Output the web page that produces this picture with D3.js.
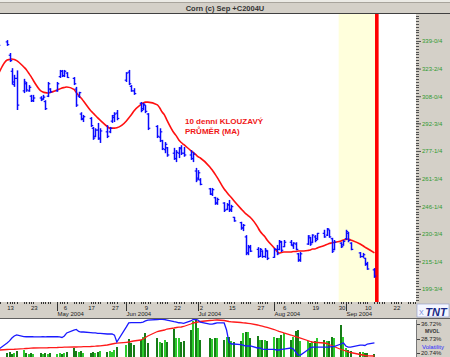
<!DOCTYPE html>
<html><head><meta charset="utf-8">
<script src="https://cdn.jsdelivr.net/npm/d3@7"></script>
<style>html,body{margin:0;padding:0;background:#d4d0c8;overflow:hidden}svg{display:block}</style>
</head><body><svg id="c" width="450" height="357"></svg>
<script>
// ---------- data ----------
const title = "Corn (c) Sep +C2004U";
const dates = [
"04-08","04-12","04-13","04-14","04-15","04-16",
"04-19","04-20","04-21","04-22","04-23",
"04-26","04-27","04-28","04-29","04-30",
"05-03","05-04","05-05","05-06","05-07",
"05-10","05-11","05-12","05-13","05-14",
"05-17","05-18","05-19","05-20","05-21",
"05-24","05-25","05-26","05-27","05-28",
"06-01","06-02","06-03","06-04",
"06-07","06-08","06-09","06-10",
"06-14","06-15","06-16","06-17","06-18",
"06-21","06-22","06-23","06-24","06-25",
"06-28","06-29","06-30","07-01","07-02",
"07-06","07-07","07-08","07-09",
"07-12","07-13","07-14","07-15","07-16",
"07-19","07-20","07-21","07-22","07-23",
"07-26","07-27","07-28","07-29","07-30",
"08-02","08-03","08-04","08-05","08-06",
"08-09","08-10","08-11","08-12","08-13",
"08-16","08-17","08-18","08-19","08-20",
"08-23","08-24","08-25","08-26","08-27",
"08-30","08-31","09-01","09-02","09-03",
"09-07","09-08","09-09","09-10",
"09-13"];
const high = [341,339.5,332.25,323.75,320,322.5,
317.75,316,314.25,308.75,308.75,
308,308.75,305.75,316,312.5,
316,322.75,322.75,322.75,321.5,
318.75,313.25,310.5,299,297.5,
296.25,290.75,290,293,290,
291.75,290.75,297.5,299,300.25,
321.5,322.75,314.25,312.5,
304.75,304.25,303,298.5,
291.75,290,283.5,282.25,279.5,
279,277.75,279.5,280.5,279.5,
277.75,276.75,267.75,266.5,262,
256.5,256.5,251.5,251,
248.5,248,249.75,247,240.25,
237.5,236.25,230,224.5,224.5,
223.25,222.75,221.5,222.75,221.5,
222.75,224.5,227.25,226.75,227.25,
227.25,226,226,220,220.5,
230,229,230.5,230,231.25,
233,234,233,228.5,227.25,
226,227.25,233,231.75,226,
220.5,220,217.25,215,
211.5];
const low = [335.5,336.25,327.25,314.5,313.25,300.25,
309.75,310.5,310.5,304.75,304.75,
305.25,306,300.25,307.5,309.75,
310.5,318.25,318.75,318.75,318.25,
314.25,302,307,294.5,293.5,
290.75,283.5,285,283.5,281.75,
284.5,287.25,293,293.5,294.5,
316,314.25,310.5,308.75,
299,300.25,298.5,289,
284.5,282.25,277.75,276,274,
272.25,271,273.25,275,274,
272.25,271,259.75,261,258,
252.5,252,247,247,
243,244,243,243,237.5,
233,232.25,218.75,218.75,220.5,
217.25,217.75,217.25,217.25,216,
217.25,218.75,221.5,220.5,223.25,
224,222.25,221.5,215,215,
224.5,224,225.5,226,227.25,
228.5,229.5,228.5,220,221.5,
222.75,224,227.25,226,221.5,
217.25,217.25,212.75,210.5,
206];
const open = [340,338.5,331,322,314.5,318,
311,315,311,308,305.5,
307,306.5,305,308,312,
311,319,322,319.5,321,
318,312,308,298,295,
295.5,290,285.5,289,284,
288,288,294,296,298.5,
317,321.5,313.5,311,
304,301,303,298,
291,285,283,278,279,
276,273,276,279,276,
275,273,266,262,261,
256,253,251,248,
248,244.5,247,244,240,
237,234,229,220,223,
222,218,221,218,221,
217.5,222,222,226,223.5,
226,224,225,219.5,216,
225,228.5,226,229,228,
231,230,233,228,222,
225.5,224.5,228,231,225.5,
220,218,217,214,
210.5];
const close = [336.5,337,328,316,318,303,
316,311.5,313,305.5,307,
306,307.5,301,315,310.5,
315,322,319.5,322,318.5,
315,303,310,295.5,296.5,
291.5,284.5,289,284.5,288.5,
285.5,290,297,298,295.5,
321,315,311,309.5,
300,303.5,299.5,290,
285.5,288,278.5,281,275,
273,276.5,278.5,276,275,
273,275.5,261,265,258.5,
253,255.5,248,250,
244,247,244.5,246,238,
234,235.5,220,223.5,221,
218,222,218,221.5,217,
222,219.5,226.5,221.5,226,
224.5,225.5,222,216,219.5,
229.5,225,230,227,231,
229,233.5,229,221,226,
223.5,226.5,232,227,222,
218,219,213.5,211,
207];
const movingAvg10 = [319.3,328.3,328.6,328.9,328.6,328.0,
324.4,323.0,321.0,319.1,316.8,
311.2,310.4,310.0,309.8,310.1,
311.5,312.0,312.6,312.9,313.2,
311.8,310.1,308.4,307.0,305.3,
300.0,298.6,297.2,295.8,294.6,
291.0,290.1,290.1,290.1,290.3,
294.1,295.8,297.4,299.4,
303.3,304.2,304.7,304.7,
303.1,301.4,299.1,297.4,294.6,
287.3,285.6,283.4,282.0,280.9,
277.5,276.4,275.3,274.1,273.3,
268.3,266.6,264.6,262.6,
255.9,254.2,252.5,251.1,249.4,
244.9,243.5,242.1,241.0,239.9,
234.6,232.3,230.6,229.2,227.3,
222.8,221.1,220.0,220.2,220.5,
220.5,220.8,220.8,221.1,221.1,
221.4,221.6,222.2,222.2,222.8,
224.2,224.7,225.3,225.6,225.9,
226.7,227.3,227.5,227.8,227.3,
225.0,224.2,223.3,222.5,
220.0];
const volume = [10,8,10,6,8,12,
14,8,6,8,6,
8,6,8,6,8,
6,8,6,8,10,
18,12,10,12,8,
8,10,8,10,12,
10,12,10,14,20,
24,36,28,24,
34,40,48,28,
38,30,28,34,30,
56,38,38,30,32,
54,72,74,58,34,
38,36,38,38,
34,40,40,32,30,
32,48,50,50,38,
42,34,34,34,32,
40,38,38,44,48,
34,40,52,54,32,
32,28,30,32,38,
34,32,32,40,38,
64,40,18,14,12,
10,10,8,8,
6];
const volatility = [22.4,26.3,27.4,29.0,30.1,30.7,
29.8,29.7,29.7,29.8,29.7,
29.6,29.7,29.6,29.7,29.8,
29.7,29.6,29.3,30.1,31.8,
33.4,33.7,32.6,32.3,32.3,
32.0,31.8,31.8,31.5,31.5,
31.2,31.2,31.2,30.6,26.8,
35.1,37.3,37.5,37.5,
37.5,37.8,38.4,38.9,
39.2,39.3,39.3,39.2,38.9,
38.0,37.8,37.4,37.3,37.1,
38.4,39.2,39.3,38.9,37.8,
36.7,36.7,37.0,37.3,
37.3,33.4,26.8,25.7,25.7,
25.4,25.1,24.6,24.6,24.6,
23.5,23.5,22.9,22.7,22.7,
22.7,22.4,22.4,22.7,22.9,
23.5,22.9,21.3,19.6,19.6,
22.4,23.5,24.0,24.0,24.0,
24.0,24.0,24.0,24.3,24.3,
25.7,26.3,24.6,24.0,24.0,
25.1,25.1,24.9,25.7,
26.3];
const openInterest = [137,140.5,141,141.6,142,143,
145,146,146.5,147.5,148.6,
149,149.7,149.7,150,150.8,
151.3,151.9,152.4,153,153.5,
154,154,154.6,155.1,155.7,
156.8,157.8,158.4,159.5,160.5,
164.9,167.6,170.3,173,174.6,
179.5,181,183.8,186.5,
191.9,197.3,205.4,213.5,
237.8,240.5,243.2,245.9,251.3,
256.7,259.4,261,262.2,264.9,
278.4,283.8,286.5,289.2,291.9,
297.3,298.4,299.4,300,
297.3,294.6,291.9,290.3,289.2,
286.5,284.9,283.8,282.2,280.5,
273,269.7,266.5,263.2,260,
248.6,243.2,238.9,235.1,230.8,
218.9,214.6,210.3,205.9,201.6,
189.2,184.9,181.1,179.5,178.4,
175.7,173,167.6,162.2,156.8,
140.5,136.8,132.4,128.1,124.3,
113.5,110.8,108.1,106.5,
105.4];
const priceTicks = [339,323.5,308,292.75,277.25,261.75,246.25,230.75,215.25,199.75];
const priceTickLabels = ["339-0/4","323-2/4","308-0/4","292-3/4","277-1/4","261-3/4","246-1/4","230-3/4","215-1/4","199-3/4"];
const dayTickDates = ["04-13","04-23","05-06","05-17","05-27","06-09","06-22","07-02","07-15","07-27","08-06","08-19","08-30","09-10","09-22"];
const dayTickLabels = ["13","23","6","17","27","9","22","2","15","27","6","19","30","10","22"];
const monthDates = ["05-03","06-01","07-01","08-02","09-01"];
const monthLabels = ["May 2004","Jun 2004","Jul 2004","Aug 2004","Sep 2004"];
const highlightStart = "08-29", highlightEnd = "09-14";
const annotation = ["10 denní KLOUZAVÝ","PRŮMĚR (MA)"];
const volaLabels = ["36.72%","28.73%","20.74%"];
const volaTicks = [36.72,28.73,20.74];

// ---------- drawing ----------
const parse = d3.utcParse("%Y-%m-%d");
const D = s => parse("2004-" + s);
const rows = dates.map((s,i)=>({d:D(s),h:high[i],l:low[i],o:open[i],c:close[i],ma:movingAvg10[i],v:volume[i],vo:volatility[i],oi:openInterest[i]}));
const FONT = "'Liberation Sans', Arial, sans-serif";
const svg = d3.select("#c");
const P = {l:0, r:416, t:14, b:302};
const B = {t:319, b:357};
const x = d3.scaleUtc().domain([D("04-13"), D("09-22")]).range([9.5, 395.9]);
const y = d3.scaleLinear().domain([199.75, 339]).range([289, 41]);
const yVol = d3.scaleLinear().domain([0, 80]).range([B.b, B.b-40]);
const yVola = d3.scaleLinear().domain([20.74, 36.72]).range([353, 324]);
const yOI = d3.scaleLinear().domain([100, 300]).range([B.b, 320]);

svg.append("rect").attr("width",450).attr("height",357).attr("fill","#d4d0c8");
// title bar
svg.append("rect").attr("x",0).attr("y",0).attr("width",450).attr("height",2).attr("fill","#ecebe6");
svg.append("line").attr("x1",0).attr("x2",450).attr("y1",2.5).attr("y2",2.5).attr("stroke","#a8a49c");
svg.append("line").attr("x1",0).attr("x2",450).attr("y1",13.5).attr("y2",13.5).attr("stroke","#404040");
svg.append("text").attr("x",225).attr("y",10.5).attr("text-anchor","middle")
  .attr("font-family",FONT).attr("font-weight","bold").attr("font-size",7.5).attr("fill","#333").text(title);

const defs = svg.append("defs");
defs.append("clipPath").attr("id","cp").append("rect").attr("x",P.l).attr("y",P.t).attr("width",P.r-P.l).attr("height",P.b-P.t);
defs.append("clipPath").attr("id","cb").append("rect").attr("x",0).attr("y",B.t).attr("width",416).attr("height",B.b-B.t);

// main plot
svg.append("rect").attr("x",P.l).attr("y",P.t).attr("width",P.r-P.l).attr("height",P.b-P.t).attr("fill","#fff");
const g = svg.append("g").attr("clip-path","url(#cp)");
g.append("rect").attr("x",x(D(highlightStart))).attr("y",P.t)
  .attr("width",x(D(highlightEnd))-x(D(highlightStart))).attr("height",P.b-P.t).attr("fill","#ffffdc");
g.append("rect").attr("x",x(D(highlightEnd))-1.8).attr("y",P.t).attr("width",3.6).attr("height",P.b-P.t).attr("fill","#ff0000");

g.append("path").datum(rows).attr("fill","none").attr("stroke","#ff1010").attr("stroke-width",1.6)
  .attr("d",d3.line().x(d=>x(d.d)).y(d=>y(d.ma)).curve(d3.curveMonotoneX));

const bars = g.append("g").attr("stroke","#0a0aff");
rows.forEach(d=>{
  const xx = Math.round(x(d.d))+0.5;
  bars.append("line").attr("x1",xx).attr("x2",xx).attr("y1",y(d.h)).attr("y2",y(d.l)).attr("stroke-width",1.5);
  bars.append("line").attr("x1",xx-1.8).attr("x2",xx).attr("y1",y(d.o)).attr("y2",y(d.o)).attr("stroke-width",1.2);
  bars.append("line").attr("x1",xx).attr("x2",xx+1.8).attr("y1",y(d.c)).attr("y2",y(d.c)).attr("stroke-width",1.2);
});

svg.append("g").attr("font-family",FONT).attr("font-weight","bold").attr("font-size",8).attr("fill","#f01818")
  .selectAll("text").data(annotation).join("text").attr("x",185).attr("y",(d,i)=>123.5+i*10).text(d=>d);

// right price axis
const ax = svg.append("g");
d3.range(192.0, 354, 1.55).forEach(v=>{
  const yy = Math.round(y(v))+0.5;
  if (yy>P.t+1 && yy<P.b-1) ax.append("line").attr("x1",416).attr("x2",419).attr("y1",yy).attr("y2",yy).attr("stroke","#505050");
});
ax.append("g").attr("transform","translate(416,0)")
  .call(d3.axisRight(y).tickValues(priceTicks).tickFormat((d,i)=>priceTickLabels[i]).tickSize(5).tickPadding(1))
  .call(s=>{s.select(".domain").remove();
    s.selectAll(".tick line").attr("stroke","#555");
    s.selectAll("text").attr("font-family",FONT).attr("font-size",6).attr("fill","#2f9a2f");});

// date axis bar
const da = svg.append("g").attr("shape-rendering","crispEdges");
d3.utcDay.range(D("04-05"), D("10-01")).filter(d=>d.getUTCDay()>0 && d.getUTCDay()<6).forEach(d=>{
  const xx = Math.round(x(d))+0.5;
  if (xx>0 && xx<416) da.append("line").attr("x1",xx).attr("x2",xx).attr("y1",302).attr("y2",304).attr("stroke","#333");
});
monthDates.forEach((s,i)=>{
  const xx = Math.round(x(D(s)))+0.5;
  da.append("line").attr("x1",xx).attr("x2",xx).attr("y1",302).attr("y2",311).attr("stroke","#333");
  svg.append("text").attr("x",xx).attr("y",315.5).attr("font-family",FONT).attr("font-size",6).attr("fill","#222").text(monthLabels[i]);
});
dayTickDates.forEach((s,i)=>{
  svg.append("text").attr("x",x(D(s))+1).attr("y",309.5).attr("text-anchor","middle")
    .attr("font-family",FONT).attr("font-size",6).attr("fill","#222").text(dayTickLabels[i]);
});
svg.append("line").attr("x1",0).attr("x2",450).attr("y1",318.5).attr("y2",318.5).attr("stroke","#606060");

// TNT logo
svg.append("rect").attr("x",417).attr("y",304).attr("width",32).attr("height",13).attr("fill","#f4f6ff").attr("stroke","#8a96c8").attr("stroke-width",0.6);
svg.append("text").attr("x",419).attr("y",314.5).attr("font-family",FONT).attr("font-size",7).attr("fill","#6f86d8").text("X");
svg.append("text").attr("x",436).attr("y",315.5).attr("text-anchor","middle").attr("font-family",FONT)
  .attr("font-weight","bold").attr("font-style","italic").attr("font-size",11).attr("fill","#1b2a86").text("TNT");

// bottom panel
svg.append("rect").attr("x",0).attr("y",B.t).attr("width",416).attr("height",B.b-B.t).attr("fill","#fff");
const gb = svg.append("g").attr("clip-path","url(#cb)");
gb.append("g").attr("shape-rendering","crispEdges").selectAll("rect").data(rows).join("rect")
  .attr("x",d=>Math.round(x(d.d))-1).attr("width",2)
  .attr("y",d=>yVol(d.v)).attr("height",d=>B.b-yVol(d.v))
  .attr("fill",(d)=>d.c>=d.o ? "#2ecb2e" : "#177c17");
gb.append("path").datum(rows).attr("fill","none").attr("stroke","#ff1a1a").attr("stroke-width",1.3)
  .attr("d",d3.line().x(d=>x(d.d)).y(d=>yOI(d.oi)));
gb.append("path").datum(rows).attr("fill","none").attr("stroke","#1a1aff").attr("stroke-width",1.3)
  .attr("d",d3.line().x(d=>x(d.d)).y(d=>yVola(d.vo)));

// bottom right labels
const br = svg.append("g").attr("font-family",FONT).attr("font-size",6).attr("fill","#222");
volaTicks.forEach((v,i)=>{
  br.append("line").attr("x1",416.5).attr("x2",420).attr("y1",Math.round(yVola(v))+0.5).attr("y2",Math.round(yVola(v))+0.5).attr("stroke","#444");
  br.append("text").attr("x",421).attr("y",yVola(v)+2.2).text(volaLabels[i]);
});
br.append("line").attr("x1",416.5).attr("x2",416.5).attr("y1",320).attr("y2",357).attr("stroke","#777");
br.append("text").attr("x",425).attr("y",332.5).attr("font-size",5).attr("font-weight","bold").attr("fill","#333").text("MVOL");
br.append("text").attr("x",422).attr("y",349).attr("fill","#2a2aff").text("Volatility");
</script></body></html>
